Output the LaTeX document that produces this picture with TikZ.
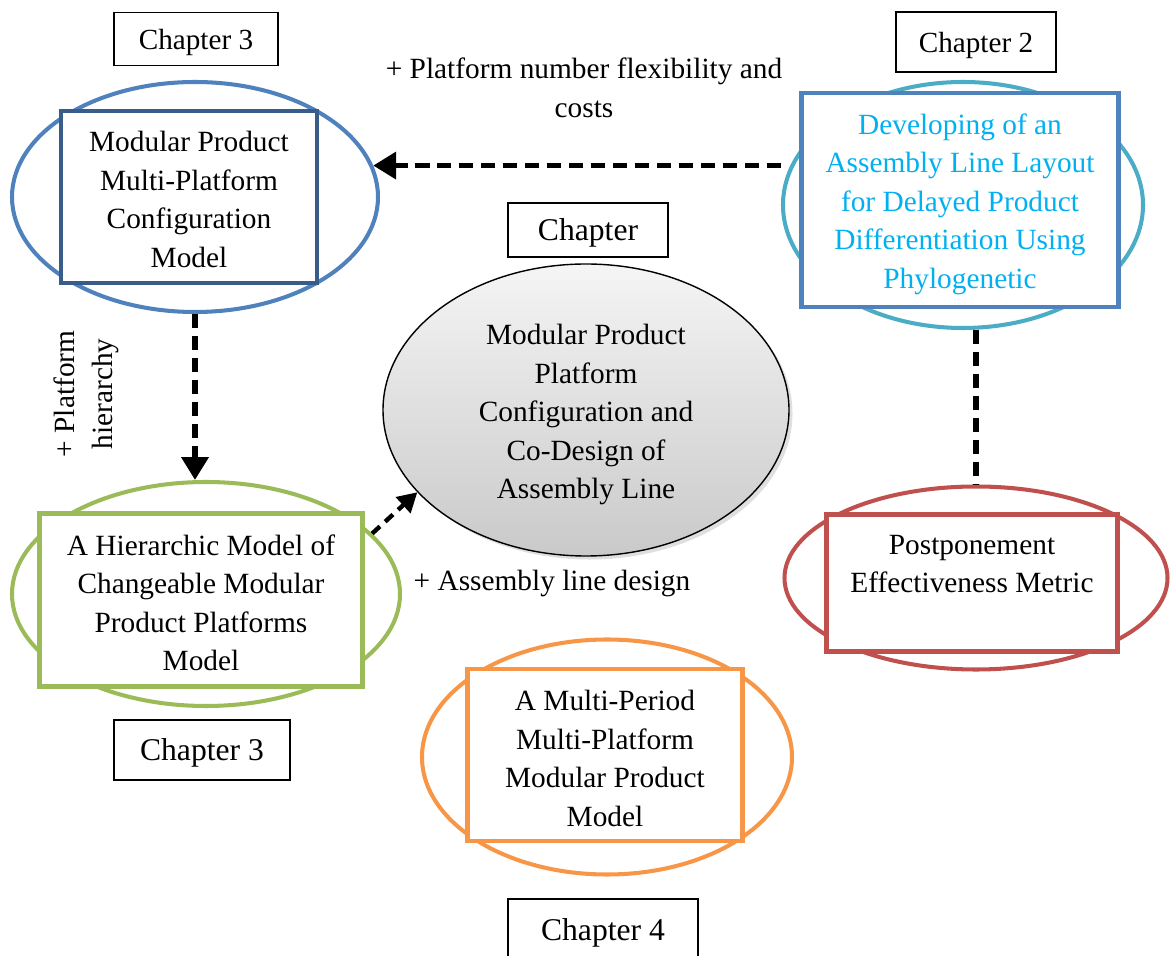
\documentclass[tikz,border=0pt]{standalone}
\usepackage{fontspec}
\setmainfont{Liberation Serif}
\usetikzlibrary{shapes.geometric,arrows.meta,shadows}

\definecolor{ringblue}{HTML}{4F81BD}
\definecolor{boxblue}{HTML}{385D8A}
\definecolor{ringteal}{HTML}{4BACC6}
\definecolor{textcyan}{HTML}{00B0F0}
\definecolor{ringgreen}{HTML}{9BBB59}
\definecolor{ringred}{HTML}{C0504D}
\definecolor{ringorange}{HTML}{F79646}

\newcommand{\sink}[1]{\rule{0pt}{#1}}

\tikzset{
    chapbox/.style={draw, line width=0.9pt, inner sep=0pt, text depth=0pt, font=\fontsize{16.6}{20}\selectfont},
    bigchapbox/.style={chapbox, font=\fontsize{18}{21}\selectfont},
    ring/.style={ellipse, draw, line width=2.3pt, inner sep=0pt},
    modelbox/.style={rectangle, draw, line width=2.4pt, fill=white, inner sep=0pt, align=center, font=\fontsize{16.7}{21.9}\selectfont},
    note/.style={align=center, font=\fontsize{16.7}{21.9}\selectfont},
    link/.style={line width=3.1pt, dash pattern=on 8pt off 4.5pt, -{Triangle[length=13pt,width=15pt]}},
}

\begin{document}
\begin{tikzpicture}
        \useasboundingbox (0,0) rectangle (23.4,-19.12);

        \node[chapbox, minimum width=3.28cm, minimum height=1.06cm] (ChapThreeTop) at (3.92,-0.78) {Chapter 3};
        \node[chapbox, minimum width=3.2cm, minimum height=1.2cm] (ChapTwo) at (19.52,-0.84) {Chapter 2};
        \node[bigchapbox, minimum width=3.2cm, minimum height=1.08cm] (ChapMid) at (11.76,-4.6) {Chapter};
        \node[bigchapbox, minimum width=3.52cm, minimum height=1.2cm] (ChapThreeBot) at (4.04,-15.0) {Chapter 3};
        \node[bigchapbox, minimum width=3.8cm, minimum height=1.24cm] (ChapFour) at (12.06,-18.6) {Chapter 4};

        \node[ring, draw=ringblue, minimum width=7.32cm, minimum height=4.6cm] (MPCring) at (3.9,-3.94) {};
        \node[ring, draw=ringteal, minimum width=7.2cm, minimum height=4.92cm] (DALring) at (19.26,-4.1) {};
        \node[ring, draw=ringgreen, minimum width=7.76cm, minimum height=4.48cm] (HMCring) at (4.12,-11.88) {};
        \node[ring, draw=ringred, minimum width=7.66cm, minimum height=3.66cm] (PEMring) at (19.52,-11.56) {};
        \node[ring, draw=ringorange, minimum width=7.4cm, minimum height=4.7cm] (MPMPring) at (12.14,-15.14) {};

        \node[ellipse, draw, line width=0.8pt, inner sep=0pt, minimum width=8.12cm, minimum height=5.84cm,
              top color=gray!8, bottom color=gray!42, drop shadow={opacity=0.25, shadow xshift=2pt, shadow yshift=-2pt},
              align=center, font=\fontsize{16.7}{21.9}\selectfont] (CoDesign) at (11.72,-8.2)
              {\sink{17.1pt}Modular Product\\Platform\\Configuration and\\Co-Design of\\Assembly Line};

        \node[modelbox, draw=boxblue, minimum width=5.12cm, minimum height=3.44cm] (MPC) at (3.78,-3.94)
              {\sink{14.2pt}Modular Product\\Multi-Platform\\Configuration\\Model};
        \node[modelbox, draw=ringblue, text=textcyan, minimum width=6.34cm, minimum height=4.28cm] (DAL) at (19.2,-4.0)
              {\sink{16.5pt}Developing of an\\Assembly Line Layout\\for Delayed Product\\Differentiation Using\\Phylogenetic};
        \node[modelbox, draw=ringgreen, minimum width=6.46cm, minimum height=3.46cm] (HMC) at (4.02,-12.0)
              {\sink{14.8pt}A Hierarchic Model of\\Changeable Modular\\Product Platforms\\Model};
        \node[modelbox, draw=ringred, minimum width=5.82cm, minimum height=2.74cm] (PEM) at (19.44,-11.66)
              {Postponement\\Effectiveness Metric\\\mbox{}};
        \node[modelbox, draw=ringorange, minimum width=5.5cm, minimum height=3.44cm] (MPMP) at (12.1,-15.1)
              {\sink{15.4pt}A Multi-Period\\Multi-Platform\\Modular Product\\Model};

        \node[note] (FlexLabel) at (11.68,-1.76) {+ Platform number flexibility and\\costs};
        \node[note, rotate=90] (HierLabel) at (1.73,-7.88) {+ Platform\\hierarchy};
        \node[note] (AsmLabel) at (11.04,-11.66) {+ Assembly line design};

        \draw[link] (MPCring.10 -| DALring.west) -- (MPCring.10);
        \draw[link] (MPCring.south) -- (MPCring.south |- HMCring.north);
        \draw[link, line width=2.5pt, dash pattern=on 6pt off 4pt, -{Triangle[length=11pt,width=12pt]}] (HMCring.20) -- (CoDesign.206);
        \draw[line width=3.1pt, dash pattern=on 8pt off 4.5pt] (PEMring.north |- DALring.south) -- (PEMring.north);
    \end{tikzpicture}
\end{document}
